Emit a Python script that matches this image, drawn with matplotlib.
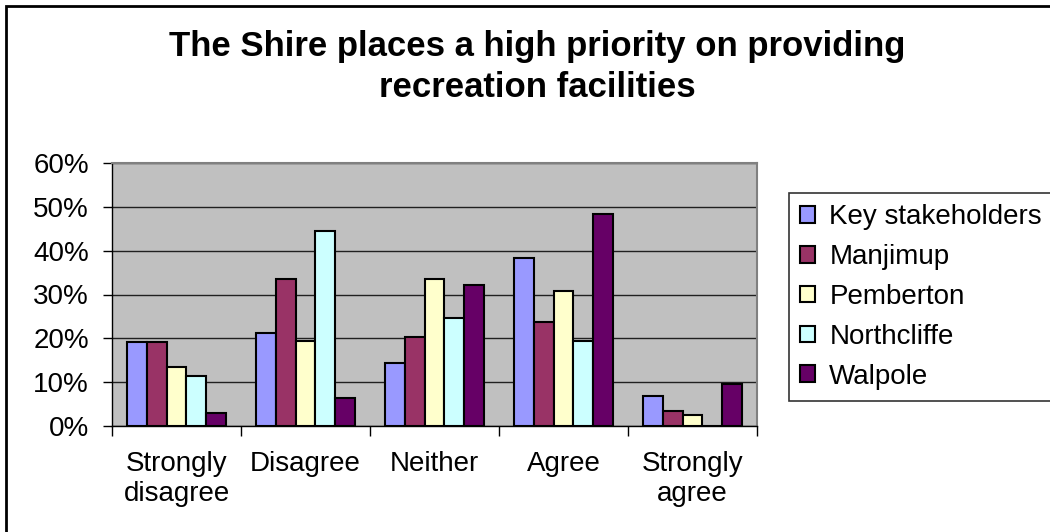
import matplotlib.pyplot as plt
from matplotlib.patches import Rectangle
import numpy as np

plt.rcParams['font.family'] = ['Liberation Sans', 'DejaVu Sans']

# Survey responses (% of respondents)
categories = ['Strongly\ndisagree', 'Disagree', 'Neither', 'Agree', 'Strongly\nagree']
series = ['Key stakeholders', 'Manjimup', 'Pemberton', 'Northcliffe', 'Walpole']
key_stakeholders = [19.1, 21.3, 14.3, 38.3, 6.9]
manjimup = [19.1, 33.5, 20.4, 23.8, 3.4]
pemberton = [13.4, 19.5, 33.5, 30.9, 2.5]
northcliffe = [11.3, 44.4, 24.7, 19.5, 0.0]
walpole = [3.0, 6.5, 32.2, 48.3, 9.5]
colors = ['#9999FF', '#993366', '#FFFFCC', '#CCFFFF', '#660066']

values = [key_stakeholders, manjimup, pemberton, northcliffe, walpole]

W, H = 1050, 532
fig = plt.figure(figsize=(W / 100, H / 100), dpi=100)

# outer chart border (runs off right and bottom edges)
fig.patches.append(Rectangle((6 / W, -0.05), 1.1, 1 - 6 / H + 0.05,
                             transform=fig.transFigure, fill=False,
                             edgecolor='black', linewidth=2))

# plot area in pixels: x 112..757, y 163..426
ax = fig.add_axes([112 / W, 1 - 426 / H, (757 - 112) / W, (426 - 163) / H])
ax.set_facecolor('#C0C0C0')

x = np.arange(len(categories))
bw = 1 / 6.5
for i, (name, vals, c) in enumerate(zip(series, values, colors)):
    ax.bar(x + (i - 2) * bw, vals, width=bw, color=c, edgecolor='black',
           linewidth=1.5, label=name, zorder=3)

ax.set_xlim(-0.5, len(categories) - 0.5)
ax.set_ylim(0, 60)
ax.set_yticks(range(0, 61, 10))
ax.set_yticklabels([f'{v}%' for v in range(0, 61, 10)], fontsize=20)
ax.yaxis.grid(True, color='#202020', linewidth=1, zorder=1)
ax.set_axisbelow(True)

ax.set_xticks(x)
ax.set_xticklabels(categories, fontsize=20, linespacing=1.2)
ax.tick_params(axis='x', length=0, pad=18)
ax.set_xticks(np.arange(-0.5, len(categories), 1), minor=True)
ax.tick_params(axis='x', which='minor', length=7, width=1, direction='out')
ax.tick_params(axis='y', length=6.5, width=1, direction='out', pad=10)

for s in ['top', 'right']:
    ax.spines[s].set_color('#808080')
    ax.spines[s].set_linewidth(1.5)
for s in ['left', 'bottom']:
    ax.spines[s].set_color('black')
    ax.spines[s].set_linewidth(1)

fig.text(537 / W, 1 - 67 / H,
         'The Shire places a high priority on providing\nrecreation facilities',
         ha='center', va='center', fontsize=25, fontweight='bold', linespacing=1.3)

leg = fig.legend(loc='upper left', bbox_to_anchor=(789 / W, 1 - 193 / H),
                 fontsize=20, frameon=True, fancybox=False, edgecolor='black',
                 handlelength=0.55, handleheight=0.55, handletextpad=0.5,
                 labelspacing=0.5, borderpad=0.4, borderaxespad=0)
leg.get_frame().set_linewidth(1.2)

fig.savefig('out.png', dpi=100)
